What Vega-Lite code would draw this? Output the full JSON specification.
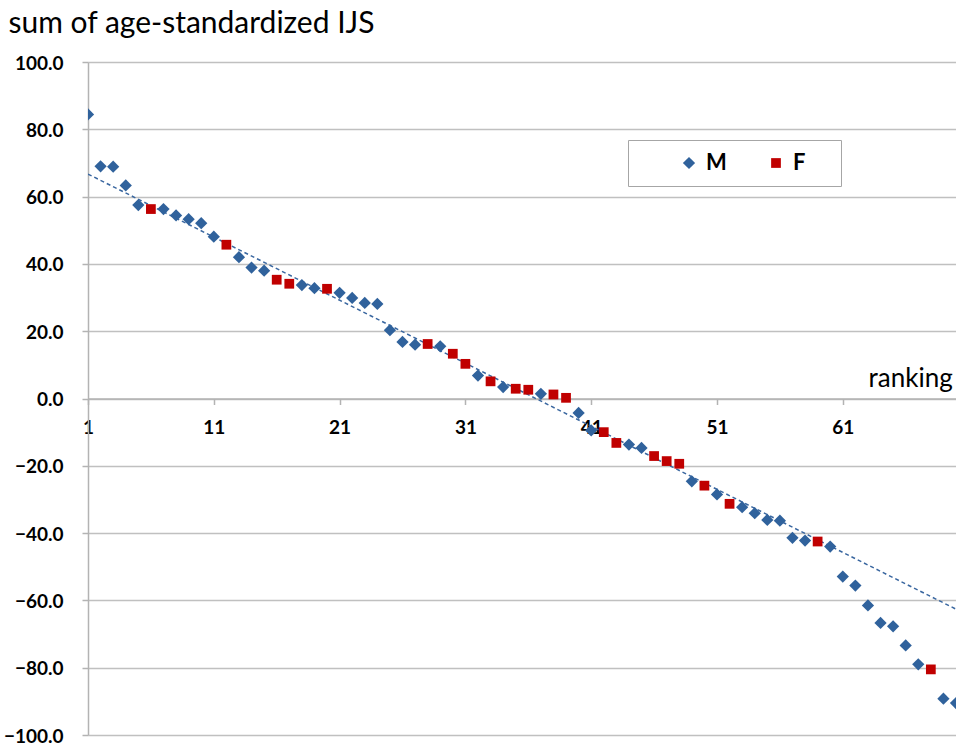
{
  "$schema": "https://vega.github.io/schema/vega-lite/v6.json",
  "autosize": "none",
  "width": 868,
  "height": 673,
  "padding": {"left": 88, "top": 62, "right": 0, "bottom": 8},
  "background": "white",
  "config": {"view": {"stroke": null}, "font": "Lato"},
  "datasets": {
    "points": [
      {"rank":1,"v":84.4,"sex":"M"},{"rank":2,"v":69.0,"sex":"M"},{"rank":3,"v":68.9,"sex":"M"},{"rank":4,"v":63.3,"sex":"M"},{"rank":5,"v":57.5,"sex":"M"},
      {"rank":6,"v":56.3,"sex":"F"},{"rank":7,"v":56.3,"sex":"M"},{"rank":8,"v":54.4,"sex":"M"},{"rank":9,"v":53.3,"sex":"M"},{"rank":10,"v":52.1,"sex":"M"},
      {"rank":11,"v":48.1,"sex":"M"},{"rank":12,"v":45.7,"sex":"F"},{"rank":13,"v":42.0,"sex":"M"},{"rank":14,"v":38.9,"sex":"M"},{"rank":15,"v":38.0,"sex":"M"},
      {"rank":16,"v":35.3,"sex":"F"},{"rank":17,"v":34.1,"sex":"F"},{"rank":18,"v":33.7,"sex":"M"},{"rank":19,"v":32.8,"sex":"M"},{"rank":20,"v":32.6,"sex":"F"},
      {"rank":21,"v":31.4,"sex":"M"},{"rank":22,"v":29.9,"sex":"M"},{"rank":23,"v":28.4,"sex":"M"},{"rank":24,"v":28.1,"sex":"M"},{"rank":25,"v":20.3,"sex":"M"},
      {"rank":26,"v":16.8,"sex":"M"},{"rank":27,"v":16.0,"sex":"M"},{"rank":28,"v":16.2,"sex":"F"},{"rank":29,"v":15.5,"sex":"M"},{"rank":30,"v":13.3,"sex":"F"},
      {"rank":31,"v":10.3,"sex":"F"},{"rank":32,"v":6.8,"sex":"M"},{"rank":33,"v":5.1,"sex":"F"},{"rank":34,"v":3.4,"sex":"M"},{"rank":35,"v":2.9,"sex":"F"},
      {"rank":36,"v":2.6,"sex":"F"},{"rank":37,"v":1.4,"sex":"M"},{"rank":38,"v":1.2,"sex":"F"},{"rank":39,"v":0.2,"sex":"F"},{"rank":40,"v":-4.3,"sex":"M"},
      {"rank":41,"v":-9.5,"sex":"M"},{"rank":42,"v":-10.0,"sex":"F"},{"rank":43,"v":-13.2,"sex":"F"},{"rank":44,"v":-13.7,"sex":"M"},{"rank":45,"v":-14.7,"sex":"M"},
      {"rank":46,"v":-17.1,"sex":"F"},{"rank":47,"v":-18.6,"sex":"F"},{"rank":48,"v":-19.4,"sex":"F"},{"rank":49,"v":-24.6,"sex":"M"},{"rank":50,"v":-25.9,"sex":"F"},
      {"rank":51,"v":-28.5,"sex":"M"},{"rank":52,"v":-31.3,"sex":"F"},{"rank":53,"v":-32.3,"sex":"M"},{"rank":54,"v":-34.1,"sex":"M"},{"rank":55,"v":-36.1,"sex":"M"},
      {"rank":56,"v":-36.3,"sex":"M"},{"rank":57,"v":-41.4,"sex":"M"},{"rank":58,"v":-42.2,"sex":"M"},{"rank":59,"v":-42.5,"sex":"F"},{"rank":60,"v":-44.0,"sex":"M"},
      {"rank":61,"v":-52.9,"sex":"M"},{"rank":62,"v":-55.6,"sex":"M"},{"rank":63,"v":-61.5,"sex":"M"},{"rank":64,"v":-66.7,"sex":"M"},{"rank":65,"v":-67.7,"sex":"M"},
      {"rank":66,"v":-73.4,"sex":"M"},{"rank":67,"v":-79.0,"sex":"M"},{"rank":68,"v":-80.5,"sex":"F"},{"rank":69,"v":-89.2,"sex":"M"},{"rank":70,"v":-90.5,"sex":"M"}
    ],
    "trend": [
      {"rank": 1, "v": 66.7},
      {"rank": 70, "v": -62.6}
    ]
  },
  "layer": [
    {
      "data": {"name": "trend"},
      "mark": {"type": "line", "color": "#3a67a0", "strokeWidth": 1.5, "strokeDash": [4, 3], "clip": true},
      "encoding": {
        "x": {"field": "rank", "type": "quantitative"},
        "y": {"field": "v", "type": "quantitative"}
      }
    },
    {
      "data": {"name": "points"},
      "mark": {"type": "point", "filled": true, "opacity": 1, "strokeWidth": 0, "clip": true},
      "encoding": {
        "x": {
          "field": "rank", "type": "quantitative",
          "scale": {"domain": [1, 70], "nice": false, "zero": false},
          "axis": {
            "values": [1, 11, 21, 31, 41, 51, 61],
            "offset": -336.5,
            "grid": false,
            "domainColor": "#b3b3b3", "domainWidth": 1.5,
            "tickColor": "#b3b3b3", "tickWidth": 1.5, "tickSize": 6,
            "labelFont": "Lato", "labelFontSize": 19, "labelFontWeight": "bold", "labelColor": "#000000",
            "labelPadding": 14, "labelFlush": false,
            "title": "ranking", "titleFont": "Lato", "titleFontSize": 26, "titleFontWeight": "normal", "titleColor": "#000000",
            "titleX": 780, "titleY": -12, "titleAlign": "left", "titleBaseline": "alphabetic", "titleAnchor": null
          }
        },
        "y": {
          "field": "v", "type": "quantitative",
          "scale": {"domain": [-100, 100], "nice": false},
          "axis": {
            "values": [-100, -80, -60, -40, -20, 0, 20, 40, 60, 80, 100],
            "format": ".1f",
            "grid": true, "gridColor": "#c0c0c0", "gridWidth": 1.5,
            "domainColor": "#b3b3b3", "domainWidth": 1.5,
            "tickColor": "#b3b3b3", "tickWidth": 1.5, "tickSize": 6,
            "labelFont": "Lato", "labelFontSize": 19, "labelFontWeight": "bold", "labelColor": "#000000",
            "labelPadding": 19, "labelBaseline": "alphabetic", "labelOffset": 7,
            "title": "sum of age-standardized IJS", "titleFont": "Lato", "titleFontSize": 30, "titleFontWeight": "normal", "titleColor": "#000000",
            "titleAngle": 0, "titleX": -80, "titleY": -30, "titleAlign": "left", "titleBaseline": "alphabetic"
          }
        },
        "color": {
          "field": "sex", "type": "nominal",
          "scale": {"domain": ["M", "F"], "range": ["#30629c", "#c00000"]},
          "legend": {
            "title": "\u00a0", "titleOrient": "right", "titlePadding": 24,
            "orient": "none", "legendX": 540, "legendY": 78,
            "direction": "horizontal",
            "fillColor": "white", "strokeColor": "#a6a6a6", "padding": 12,
            "labelFont": "Lato", "labelFontSize": 22, "labelFontWeight": "bold", "labelColor": "#000000",
            "symbolSize": 70, "symbolStrokeWidth": 0, "columnPadding": 0, "labelOffset": 6,
            "symbolOffset": 38
          }
        },
        "shape": {
          "field": "sex", "type": "nominal",
          "scale": {"domain": ["M", "F"], "range": ["diamond", "square"]}
        },
        "size": {
          "field": "sex", "type": "nominal",
          "scale": {"domain": ["M", "F"], "range": [150, 95]},
          "legend": null
        }
      }
    }
  ]
}
